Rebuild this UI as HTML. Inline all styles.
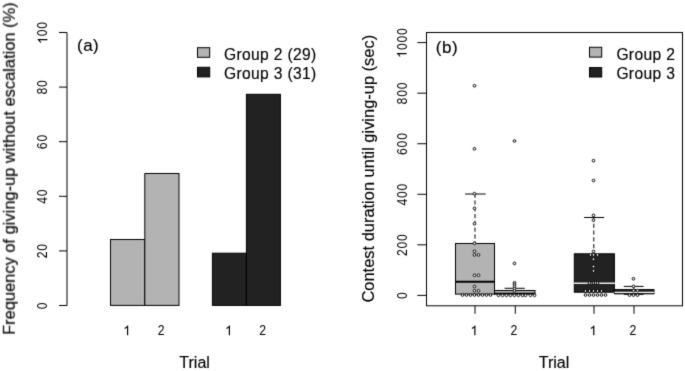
<!DOCTYPE html>
<html><head><meta charset="utf-8"><style>
html,body{margin:0;padding:0;background:#fff;}
svg{display:block;will-change:transform;}
text{font-family:"Liberation Sans", sans-serif;fill:#000;}
.lb,.yl,.pl,.lg{stroke:#000;stroke-width:0.15px;}
.lb{font-size:16px;}
.yl{font-size:16.45px;}
.pl{font-size:17px;letter-spacing:0.5px;}
.lg{font-size:15.6px;letter-spacing:0.35px;}
</style></head><body>
<svg width="685" height="371" viewBox="0 0 685 371">
<defs><filter id="bl" color-interpolation-filters="sRGB" x="0" y="0" width="685" height="371" filterUnits="userSpaceOnUse"><feConvolveMatrix order="3" kernelMatrix="0.0144 0.0912 0.0144 0.0912 0.5776 0.0912 0.0144 0.0912 0.0144" edgeMode="duplicate"/></filter></defs>
<g filter="url(#bl)">
<rect width="685" height="371" fill="#fff"/>
<line x1="67.00" y1="32.50" x2="67.00" y2="305.50" stroke="#000" stroke-width="1"/>
<line x1="59.00" y1="305.50" x2="67.00" y2="305.50" stroke="#000" stroke-width="1"/>
<g transform="translate(47.40,305.80) rotate(-90)"><text x="-3.78" transform="translate(0.00,0) scale(0.9,1.035)" style="font-size:13.6px">0</text></g>
<line x1="59.00" y1="250.90" x2="67.00" y2="250.90" stroke="#000" stroke-width="1"/>
<g transform="translate(47.40,251.20) rotate(-90)"><text x="-3.78" transform="translate(-3.78,0) scale(0.9,1.035)" style="font-size:13.6px">2</text><text x="-3.78" transform="translate(3.78,0) scale(0.9,1.035)" style="font-size:13.6px">0</text></g>
<line x1="59.00" y1="196.30" x2="67.00" y2="196.30" stroke="#000" stroke-width="1"/>
<g transform="translate(47.40,196.60) rotate(-90)"><text x="-3.78" transform="translate(-3.78,0) scale(0.9,1.035)" style="font-size:13.6px">4</text><text x="-3.78" transform="translate(3.78,0) scale(0.9,1.035)" style="font-size:13.6px">0</text></g>
<line x1="59.00" y1="141.70" x2="67.00" y2="141.70" stroke="#000" stroke-width="1"/>
<g transform="translate(47.40,142.00) rotate(-90)"><text x="-3.78" transform="translate(-3.78,0) scale(0.9,1.035)" style="font-size:13.6px">6</text><text x="-3.78" transform="translate(3.78,0) scale(0.9,1.035)" style="font-size:13.6px">0</text></g>
<line x1="59.00" y1="87.10" x2="67.00" y2="87.10" stroke="#000" stroke-width="1"/>
<g transform="translate(47.40,87.40) rotate(-90)"><text x="-3.78" transform="translate(-3.78,0) scale(0.9,1.035)" style="font-size:13.6px">8</text><text x="-3.78" transform="translate(3.78,0) scale(0.9,1.035)" style="font-size:13.6px">0</text></g>
<line x1="59.00" y1="32.50" x2="67.00" y2="32.50" stroke="#000" stroke-width="1"/>
<g transform="translate(47.40,32.80) rotate(-90)"><path d="M763 0H583V1147Q518 1085 412 1023Q306 961 222 930V1104Q373 1175 486 1276Q599 1377 646 1472H763Z" transform="translate(-11.35,0) scale(0.00664,-0.00664)"/><text x="-3.78" transform="translate(0.00,0) scale(0.9,1.035)" style="font-size:13.6px">0</text><text x="-3.78" transform="translate(7.56,0) scale(0.9,1.035)" style="font-size:13.6px">0</text></g>
<rect x="110.50" y="239.50" width="34.30" height="65.90" fill="#b3b3b3" stroke="#000" stroke-width="1"/>
<rect x="144.80" y="173.50" width="34.20" height="131.90" fill="#b3b3b3" stroke="#000" stroke-width="1"/>
<rect x="212.40" y="253.20" width="34.00" height="52.20" fill="#222222" stroke="#000" stroke-width="1"/>
<rect x="246.40" y="94.30" width="34.00" height="211.10" fill="#222222" stroke="#000" stroke-width="1"/>
<g transform="translate(126.90,335.20)"><path d="M763 0H583V1147Q518 1085 412 1023Q306 961 222 930V1104Q373 1175 486 1276Q599 1377 646 1472H763Z" transform="translate(-3.78,0) scale(0.00664,-0.00664)"/></g>
<g transform="translate(161.10,335.20)"><text x="-3.78" transform="translate(0.00,0) scale(0.9,1.035)" style="font-size:13.6px">2</text></g>
<g transform="translate(228.70,335.20)"><path d="M763 0H583V1147Q518 1085 412 1023Q306 961 222 930V1104Q373 1175 486 1276Q599 1377 646 1472H763Z" transform="translate(-3.78,0) scale(0.00664,-0.00664)"/></g>
<g transform="translate(262.70,335.20)"><text x="-3.78" transform="translate(0.00,0) scale(0.9,1.035)" style="font-size:13.6px">2</text></g>
<text x="194.6" y="368.4" text-anchor="middle" class="lb">Trial</text>
<text x="0" y="0" transform="translate(14.8,168.6) rotate(-90)" text-anchor="middle" class="yl">Frequency of giving-up without escalation (%)</text>
<text x="77.0" y="51.4" class="pl">(a)</text>
<rect x="197.50" y="47.70" width="12.20" height="9.60" fill="#b3b3b3" stroke="#000" stroke-width="1"/>
<rect x="197.50" y="67.30" width="12.20" height="9.60" fill="#222222" stroke="#000" stroke-width="1"/>
<text x="224" y="59.6" class="lg">Group 2 (29)</text>
<text x="224" y="79.2" class="lg">Group 3 (31)</text>
<rect x="426.50" y="32.50" width="256.00" height="273.30" fill="none" stroke="#000" stroke-width="1"/>
<line x1="417.30" y1="295.40" x2="426.50" y2="295.40" stroke="#000" stroke-width="1"/>
<g transform="translate(406.60,295.70) rotate(-90)"><text x="-3.78" transform="translate(0.00,0) scale(0.9,1.035)" style="font-size:13.6px">0</text></g>
<line x1="417.30" y1="244.84" x2="426.50" y2="244.84" stroke="#000" stroke-width="1"/>
<g transform="translate(406.60,245.14) rotate(-90)"><text x="-3.78" transform="translate(-7.56,0) scale(0.9,1.035)" style="font-size:13.6px">2</text><text x="-3.78" transform="translate(0.00,0) scale(0.9,1.035)" style="font-size:13.6px">0</text><text x="-3.78" transform="translate(7.56,0) scale(0.9,1.035)" style="font-size:13.6px">0</text></g>
<line x1="417.30" y1="194.28" x2="426.50" y2="194.28" stroke="#000" stroke-width="1"/>
<g transform="translate(406.60,194.58) rotate(-90)"><text x="-3.78" transform="translate(-7.56,0) scale(0.9,1.035)" style="font-size:13.6px">4</text><text x="-3.78" transform="translate(0.00,0) scale(0.9,1.035)" style="font-size:13.6px">0</text><text x="-3.78" transform="translate(7.56,0) scale(0.9,1.035)" style="font-size:13.6px">0</text></g>
<line x1="417.30" y1="143.72" x2="426.50" y2="143.72" stroke="#000" stroke-width="1"/>
<g transform="translate(406.60,144.02) rotate(-90)"><text x="-3.78" transform="translate(-7.56,0) scale(0.9,1.035)" style="font-size:13.6px">6</text><text x="-3.78" transform="translate(0.00,0) scale(0.9,1.035)" style="font-size:13.6px">0</text><text x="-3.78" transform="translate(7.56,0) scale(0.9,1.035)" style="font-size:13.6px">0</text></g>
<line x1="417.30" y1="93.16" x2="426.50" y2="93.16" stroke="#000" stroke-width="1"/>
<g transform="translate(406.60,93.46) rotate(-90)"><text x="-3.78" transform="translate(-7.56,0) scale(0.9,1.035)" style="font-size:13.6px">8</text><text x="-3.78" transform="translate(0.00,0) scale(0.9,1.035)" style="font-size:13.6px">0</text><text x="-3.78" transform="translate(7.56,0) scale(0.9,1.035)" style="font-size:13.6px">0</text></g>
<line x1="417.30" y1="42.60" x2="426.50" y2="42.60" stroke="#000" stroke-width="1"/>
<g transform="translate(406.60,42.90) rotate(-90)"><path d="M763 0H583V1147Q518 1085 412 1023Q306 961 222 930V1104Q373 1175 486 1276Q599 1377 646 1472H763Z" transform="translate(-15.13,0) scale(0.00664,-0.00664)"/><text x="-3.78" transform="translate(-3.78,0) scale(0.9,1.035)" style="font-size:13.6px">0</text><text x="-3.78" transform="translate(3.78,0) scale(0.9,1.035)" style="font-size:13.6px">0</text><text x="-3.78" transform="translate(11.35,0) scale(0.9,1.035)" style="font-size:13.6px">0</text></g>
<line x1="475.00" y1="305.80" x2="475.00" y2="313.80" stroke="#000" stroke-width="1"/>
<line x1="515.30" y1="305.80" x2="515.30" y2="313.80" stroke="#000" stroke-width="1"/>
<line x1="594.00" y1="305.80" x2="594.00" y2="313.80" stroke="#000" stroke-width="1"/>
<line x1="634.00" y1="305.80" x2="634.00" y2="313.80" stroke="#000" stroke-width="1"/>
<g transform="translate(474.20,335.20)"><path d="M763 0H583V1147Q518 1085 412 1023Q306 961 222 930V1104Q373 1175 486 1276Q599 1377 646 1472H763Z" transform="translate(-3.78,0) scale(0.00664,-0.00664)"/></g>
<g transform="translate(513.90,335.20)"><text x="-3.78" transform="translate(0.00,0) scale(0.9,1.035)" style="font-size:13.6px">2</text></g>
<g transform="translate(593.10,335.20)"><path d="M763 0H583V1147Q518 1085 412 1023Q306 961 222 930V1104Q373 1175 486 1276Q599 1377 646 1472H763Z" transform="translate(-3.78,0) scale(0.00664,-0.00664)"/></g>
<g transform="translate(633.00,335.20)"><text x="-3.78" transform="translate(0.00,0) scale(0.9,1.035)" style="font-size:13.6px">2</text></g>
<text x="554" y="368.4" text-anchor="middle" class="lb">Trial</text>
<text x="0" y="0" transform="translate(374.0,168.7) rotate(-90)" text-anchor="middle" class="yl">Contest duration until giving-up (sec)</text>
<text x="435.8" y="52.5" class="pl">(b)</text>
<rect x="589.50" y="47.30" width="12.20" height="9.80" fill="#b3b3b3" stroke="#000" stroke-width="1"/>
<rect x="589.50" y="67.60" width="12.20" height="9.40" fill="#222222" stroke="#000" stroke-width="1"/>
<text x="616.4" y="59.6" class="lg">Group 2</text>
<text x="616.4" y="79.2" class="lg">Group 3</text>
<line x1="465.10" y1="194.00" x2="485.70" y2="194.00" stroke="#000" stroke-width="1"/>
<line x1="475.00" y1="243.50" x2="475.00" y2="194.00" stroke="#000" stroke-width="1" stroke-dasharray="4.2 2.6" stroke-dashoffset="1.9"/>
<rect x="455.50" y="243.50" width="39.00" height="50.60" fill="#b3b3b3" stroke="#000" stroke-width="1"/>
<line x1="455.50" y1="281.80" x2="494.50" y2="281.80" stroke="#000" stroke-width="2.1"/>
<line x1="504.60" y1="288.30" x2="524.80" y2="288.30" stroke="#000" stroke-width="1"/>
<line x1="514.80" y1="290.50" x2="514.80" y2="288.30" stroke="#000" stroke-width="1" stroke-dasharray="4.2 2.6"/>
<rect x="494.50" y="290.50" width="40.50" height="3.60" fill="#b3b3b3" stroke="#000" stroke-width="1"/>
<line x1="494.50" y1="293.50" x2="535.00" y2="293.50" stroke="#000" stroke-width="1.6"/>
<line x1="584.10" y1="217.50" x2="604.20" y2="217.50" stroke="#000" stroke-width="1"/>
<line x1="593.80" y1="253.80" x2="593.80" y2="217.50" stroke="#000" stroke-width="1" stroke-dasharray="4.2 2.6" stroke-dashoffset="1.25"/>
<rect x="574.30" y="253.80" width="40.10" height="38.40" fill="#222222" stroke="#000" stroke-width="1"/>
<line x1="573.80" y1="283.20" x2="615.00" y2="283.20" stroke="#eee" stroke-width="1.6"/>
<line x1="623.80" y1="286.40" x2="643.60" y2="286.40" stroke="#000" stroke-width="1"/>
<line x1="623.80" y1="294.30" x2="643.60" y2="294.30" stroke="#000" stroke-width="1"/>
<line x1="633.80" y1="289.60" x2="633.80" y2="286.40" stroke="#000" stroke-width="1" stroke-dasharray="4.2 2.6"/>
<rect x="614.40" y="289.60" width="39.60" height="4.20" fill="#222222" stroke="#000" stroke-width="1"/>
<line x1="614.40" y1="292.30" x2="654.30" y2="292.30" stroke="#fff" stroke-width="1.3"/>
<circle cx="474.5" cy="85.8" r="1.35" fill="#fff" stroke="#000" stroke-width="0.95"/>
<circle cx="474.5" cy="148.8" r="1.35" fill="#fff" stroke="#000" stroke-width="0.95"/>
<circle cx="474.5" cy="193.7" r="1.35" fill="#fff" stroke="#000" stroke-width="0.95"/>
<circle cx="474.5" cy="208.3" r="1.35" fill="#fff" stroke="#000" stroke-width="0.95"/>
<circle cx="474.5" cy="223.8" r="1.35" fill="#fff" stroke="#000" stroke-width="0.95"/>
<circle cx="474.5" cy="243.3" r="1.35" fill="#fff" stroke="#000" stroke-width="0.95"/>
<circle cx="474.5" cy="251.3" r="1.35" fill="#fff" stroke="#000" stroke-width="0.95"/>
<circle cx="474.5" cy="254.9" r="1.35" fill="#fff" stroke="#000" stroke-width="0.95"/>
<circle cx="478.5" cy="254.9" r="1.35" fill="#fff" stroke="#000" stroke-width="0.95"/>
<circle cx="474.5" cy="275.3" r="1.35" fill="#fff" stroke="#000" stroke-width="0.95"/>
<circle cx="478.5" cy="275.3" r="1.35" fill="#fff" stroke="#000" stroke-width="0.95"/>
<circle cx="474.5" cy="286.5" r="1.35" fill="#fff" stroke="#000" stroke-width="0.95"/>
<circle cx="474.5" cy="290.7" r="1.35" fill="#fff" stroke="#000" stroke-width="0.95"/>
<circle cx="478.5" cy="290.7" r="1.35" fill="#fff" stroke="#000" stroke-width="0.95"/>
<circle cx="462.5" cy="295.0" r="1.35" fill="#fff" stroke="#000" stroke-width="0.95"/>
<circle cx="466.5" cy="295.0" r="1.35" fill="#fff" stroke="#000" stroke-width="0.95"/>
<circle cx="470.5" cy="295.0" r="1.35" fill="#fff" stroke="#000" stroke-width="0.95"/>
<circle cx="474.5" cy="295.0" r="1.35" fill="#fff" stroke="#000" stroke-width="0.95"/>
<circle cx="478.5" cy="295.0" r="1.35" fill="#fff" stroke="#000" stroke-width="0.95"/>
<circle cx="482.5" cy="295.0" r="1.35" fill="#fff" stroke="#000" stroke-width="0.95"/>
<circle cx="486.5" cy="295.0" r="1.35" fill="#fff" stroke="#000" stroke-width="0.95"/>
<circle cx="490.5" cy="295.0" r="1.35" fill="#fff" stroke="#000" stroke-width="0.95"/>
<circle cx="514.5" cy="141.0" r="1.35" fill="#fff" stroke="#000" stroke-width="0.95"/>
<circle cx="514.5" cy="263.4" r="1.35" fill="#fff" stroke="#000" stroke-width="0.95"/>
<circle cx="514.5" cy="282.8" r="1.35" fill="#fff" stroke="#000" stroke-width="0.95"/>
<circle cx="514.5" cy="284.4" r="1.35" fill="#fff" stroke="#000" stroke-width="0.95"/>
<circle cx="514.5" cy="286.3" r="1.35" fill="#fff" stroke="#000" stroke-width="0.95"/>
<circle cx="514.5" cy="288.6" r="1.35" fill="#fff" stroke="#000" stroke-width="0.95"/>
<circle cx="514.5" cy="290.8" r="1.35" fill="#fff" stroke="#000" stroke-width="0.95"/>
<circle cx="498.5" cy="295.3" r="1.35" fill="#fff" stroke="#000" stroke-width="0.95"/>
<circle cx="502.5" cy="295.3" r="1.35" fill="#fff" stroke="#000" stroke-width="0.95"/>
<circle cx="506.5" cy="295.3" r="1.35" fill="#fff" stroke="#000" stroke-width="0.95"/>
<circle cx="510.5" cy="295.3" r="1.35" fill="#fff" stroke="#000" stroke-width="0.95"/>
<circle cx="514.5" cy="295.3" r="1.35" fill="#fff" stroke="#000" stroke-width="0.95"/>
<circle cx="518.5" cy="295.3" r="1.35" fill="#fff" stroke="#000" stroke-width="0.95"/>
<circle cx="522.5" cy="295.3" r="1.35" fill="#fff" stroke="#000" stroke-width="0.95"/>
<circle cx="525.5" cy="295.3" r="1.35" fill="#fff" stroke="#000" stroke-width="0.95"/>
<circle cx="530.5" cy="295.3" r="1.35" fill="#fff" stroke="#000" stroke-width="0.95"/>
<circle cx="534.5" cy="295.3" r="1.35" fill="#fff" stroke="#000" stroke-width="0.95"/>
<circle cx="593.5" cy="160.7" r="1.35" fill="#fff" stroke="#000" stroke-width="0.95"/>
<circle cx="593.5" cy="180.5" r="1.35" fill="#fff" stroke="#000" stroke-width="0.95"/>
<circle cx="593.5" cy="215.4" r="1.35" fill="#fff" stroke="#000" stroke-width="0.95"/>
<circle cx="593.5" cy="220.2" r="1.35" fill="#fff" stroke="#000" stroke-width="0.95"/>
<circle cx="593.5" cy="251.5" r="1.35" fill="#fff" stroke="#000" stroke-width="0.95"/>
<circle cx="590.5" cy="254.9" r="1.35" fill="#fff" stroke="#000" stroke-width="0.95"/>
<circle cx="593.5" cy="254.9" r="1.35" fill="#fff" stroke="#000" stroke-width="0.95"/>
<circle cx="597.5" cy="254.9" r="1.35" fill="#fff" stroke="#000" stroke-width="0.95"/>
<circle cx="593.5" cy="259.2" r="1.35" fill="#fff" stroke="#000" stroke-width="0.95"/>
<circle cx="593.5" cy="266.5" r="1.35" fill="#fff" stroke="#000" stroke-width="0.95"/>
<circle cx="593.5" cy="270.9" r="1.35" fill="#fff" stroke="#000" stroke-width="0.95"/>
<circle cx="589.5" cy="283.0" r="1.35" fill="#fff" stroke="#000" stroke-width="0.95"/>
<circle cx="593.5" cy="283.0" r="1.35" fill="#fff" stroke="#000" stroke-width="0.95"/>
<circle cx="595.5" cy="283.0" r="1.35" fill="#fff" stroke="#000" stroke-width="0.95"/>
<circle cx="597.5" cy="283.0" r="1.35" fill="#fff" stroke="#000" stroke-width="0.95"/>
<circle cx="585.5" cy="291.0" r="1.35" fill="#fff" stroke="#000" stroke-width="0.95"/>
<circle cx="589.5" cy="291.0" r="1.35" fill="#fff" stroke="#000" stroke-width="0.95"/>
<circle cx="593.5" cy="291.0" r="1.35" fill="#fff" stroke="#000" stroke-width="0.95"/>
<circle cx="597.5" cy="291.0" r="1.35" fill="#fff" stroke="#000" stroke-width="0.95"/>
<circle cx="601.5" cy="291.0" r="1.35" fill="#fff" stroke="#000" stroke-width="0.95"/>
<circle cx="585.5" cy="295.0" r="1.35" fill="#fff" stroke="#000" stroke-width="0.95"/>
<circle cx="589.5" cy="295.0" r="1.35" fill="#fff" stroke="#000" stroke-width="0.95"/>
<circle cx="593.5" cy="295.0" r="1.35" fill="#fff" stroke="#000" stroke-width="0.95"/>
<circle cx="597.5" cy="295.0" r="1.35" fill="#fff" stroke="#000" stroke-width="0.95"/>
<circle cx="601.5" cy="295.0" r="1.35" fill="#fff" stroke="#000" stroke-width="0.95"/>
<circle cx="605.5" cy="295.0" r="1.35" fill="#fff" stroke="#000" stroke-width="0.95"/>
<circle cx="633.5" cy="278.8" r="1.35" fill="#fff" stroke="#000" stroke-width="0.95"/>
<circle cx="633.5" cy="286.4" r="1.35" fill="#fff" stroke="#000" stroke-width="0.95"/>
<circle cx="633.5" cy="290.7" r="1.35" fill="#fff" stroke="#000" stroke-width="0.95"/>
<circle cx="637.5" cy="290.7" r="1.35" fill="#fff" stroke="#000" stroke-width="0.95"/>
<circle cx="629.5" cy="295.1" r="1.35" fill="#fff" stroke="#000" stroke-width="0.95"/>
<circle cx="633.5" cy="295.1" r="1.35" fill="#fff" stroke="#000" stroke-width="0.95"/>
<circle cx="637.5" cy="295.1" r="1.35" fill="#fff" stroke="#000" stroke-width="0.95"/>
</g>
</svg>
</body></html>
